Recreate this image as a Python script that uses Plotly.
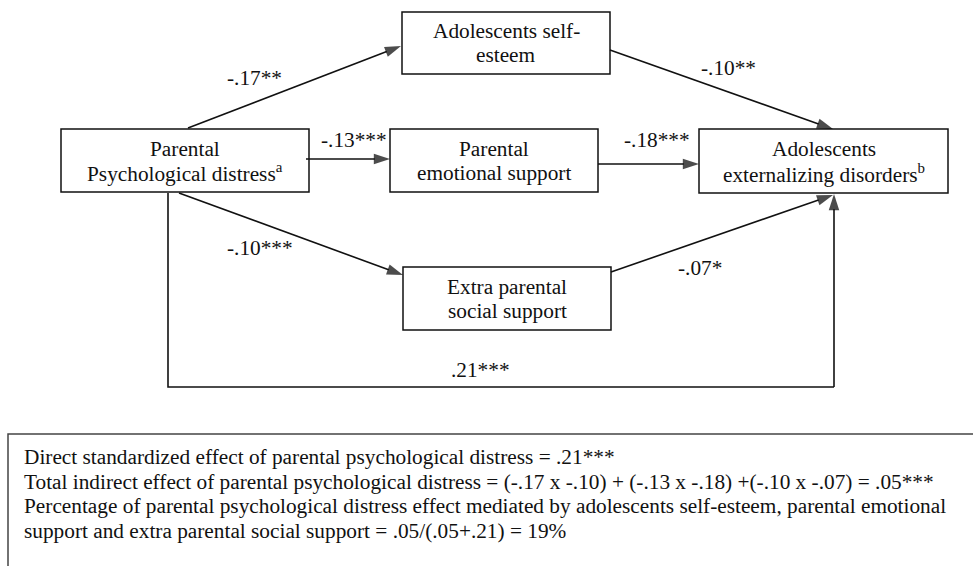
import plotly.graph_objects as go

# ---- data ----
node_labels = [
    ["Parental", "Psychological distress<sup>a</sup>"],
    ["Adolescents self-", "esteem"],
    ["Parental", "emotional support"],
    ["Adolescents", "externalizing disorders<sup>b</sup>"],
    ["Extra parental", "social support"],
]
path_values = ["-.17**", "-.13***", "-.10***", "-.10**", "-.18***", "-.07*", ".21***"]
summary_lines = [
    "Direct standardized effect of parental psychological distress = .21***",
    "Total indirect effect of parental psychological distress = (-.17 x -.10) + (-.13 x -.18) +(-.10 x -.07) = .05***",
    "Percentage of parental psychological distress effect mediated by adolescents self-esteem, parental emotional",
    "support and extra parental social support = .05/(.05+.21) = 19%",
]

# ---- layout (pixel geometry) ----
boxes = [(61, 129, 309, 192), (402, 12, 610, 74), (390, 129, 598, 192),
         (699, 129, 948, 193), (403, 267, 611, 330)]
arrows = [((188, 128), (401, 46)), ((306, 159), (390, 159)), ((179, 193), (403, 275)),
          ((610, 50), (833, 129)), ((598, 164), (699, 164)), ((611, 272), (833, 195)),
          ((834, 387), (834, 194))]
label_pos = [(254, 78), (354, 140), (260, 248), (728, 68), (657, 140), (700, 268), (480, 370)]
summary_y = [457, 481.5, 506, 530.5]

FONT = "Liberation Serif, Times New Roman, Times, serif"
LC = "#111"
TC = "#111"
FS = 21.3

fig = go.Figure()

shapes = []
annotations = []
for (x0, y0, x1, y1), lab in zip(boxes, node_labels):
    shapes.append(dict(type="rect", xref="x", yref="y", x0=x0, y0=y0, x1=x1, y1=y1,
                       line=dict(color=LC, width=1.5), fillcolor="white", layer="below"))
    cy = (y0 + y1) / 2
    for k, line in enumerate(lab):
        annotations.append(dict(x=(x0 + x1) / 2, y=cy - 12 + 24 * k, xref="x", yref="y",
                                text=line, showarrow=False, align="center",
                                yanchor="middle",
                                font=dict(family=FONT, size=FS, color=TC)))

# direct path polyline
shapes.append(dict(type="path", xref="x", yref="y",
                   path="M 168 193 L 168 387 L 834 387",
                   line=dict(color=LC, width=1.6)))

for (tail, head) in arrows:
    fig.add_trace(go.Scatter(
        x=[tail[0], head[0]], y=[tail[1], head[1]], mode="lines+markers",
        line=dict(color=LC, width=1.6),
        marker=dict(symbol=["circle", "arrow"], size=[0, 17], angleref="previous",
                    color="#000", line=dict(width=0)),
        hoverinfo="skip", showlegend=False))

for (px, py), v in zip(label_pos, path_values):
    annotations.append(dict(x=px, y=py, xref="x", yref="y", text=v, showarrow=False,
                            font=dict(family=FONT, size=FS, color=TC)))

# summary box (clipped at the right and bottom)
shapes.append(dict(type="path", xref="x", yref="y",
                   path="M 990 434 L 8 434 L 8 580",
                   line=dict(color="#444", width=1.5)))
for yy, line in zip(summary_y, summary_lines):
    annotations.append(dict(x=22, y=yy, xref="x", yref="y", xanchor="left", yanchor="middle",
                            text=line, showarrow=False, align="left",
                            font=dict(family=FONT, size=FS, color=TC)))

fig.update_layout(width=973, height=566, margin=dict(l=0, r=0, t=0, b=0),
                  paper_bgcolor="white", plot_bgcolor="white",
                  xaxis=dict(range=[0, 973], visible=False, fixedrange=True),
                  yaxis=dict(range=[566, 0], visible=False, fixedrange=True),
                  shapes=shapes, annotations=annotations, showlegend=False)

fig.write_html("out.html", config={"displayModeBar": False},
               post_script="document.body.style.margin='0';")
